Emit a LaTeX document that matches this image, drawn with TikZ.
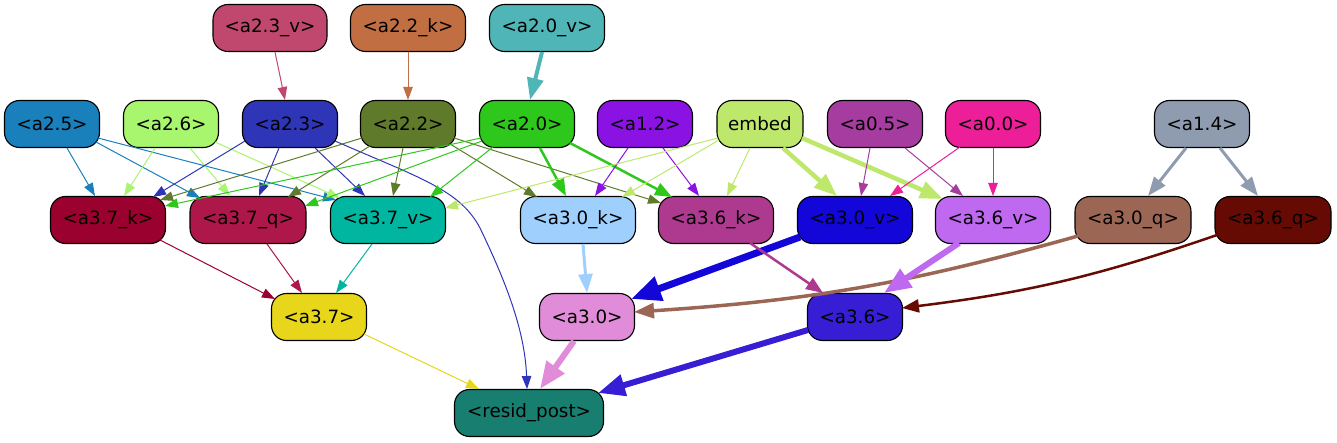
\documentclass[tikz,border=0pt]{standalone}
\usepackage{fontspec}
\setmainfont{DejaVu Sans}
\usetikzlibrary{arrows.meta,calc}
\definecolor{c23v}{HTML}{C0486E}
\definecolor{c22k}{HTML}{C16E43}
\definecolor{c20v}{HTML}{4FB5B7}
\definecolor{c25}{HTML}{1A80BB}
\definecolor{c26}{HTML}{A8F56E}
\definecolor{c23}{HTML}{2E36B7}
\definecolor{c22}{HTML}{5F7A2B}
\definecolor{c20}{HTML}{2EC81C}
\definecolor{c12}{HTML}{8A12E2}
\definecolor{cemb}{HTML}{BDE86C}
\definecolor{c05}{HTML}{A63CA0}
\definecolor{c00}{HTML}{EC1E98}
\definecolor{c14}{HTML}{8F9CB0}
\definecolor{c37k}{HTML}{9A012E}
\definecolor{c37q}{HTML}{AD174A}
\definecolor{c37v}{HTML}{01B6A1}
\definecolor{c30k}{HTML}{9FCFFD}
\definecolor{c36k}{HTML}{AD3A8F}
\definecolor{c30v}{HTML}{1206D8}
\definecolor{c36v}{HTML}{BE69EF}
\definecolor{c30q}{HTML}{9C6655}
\definecolor{c36q}{HTML}{650B04}
\definecolor{c37}{HTML}{E7D61A}
\definecolor{c30}{HTML}{E08CD8}
\definecolor{c36}{HTML}{371ED5}
\definecolor{crp}{HTML}{187E6F}
\newcommand\Ed[5]{\draw[#1] ([shift={#3}]#2.center) -- ([shift={#5}]#4.center);}
\begin{document}
\begin{tikzpicture}[x=1pt,y=-1pt,
  nd/.style 2 args={draw=black,line width=1.1pt,rounded corners=15pt,minimum height=47pt,
    minimum width=#2pt,inner sep=0pt,fill=#1,text=black,font=\fontsize{18.3}{22}\selectfont},
  ar/.style n args={4}{draw=#1,line width=#2pt,-{Triangle[length=#3pt,width=#4pt]}},
  tn/.style={ar={#1}{1}{13}{9.5}}]
\useasboundingbox (0,0) rectangle (1337,443);
% top row
\node[nd={c23v}{114}] (a23v) at (270,28) {<a2.3\_v>};
\node[nd={c22k}{115}] (a22k) at (408,28) {<a2.2\_k>};
\node[nd={c20v}{115}] (a20v) at (547,28) {<a2.0\_v>};
% second row
\node[nd={c25}{95}] (a25) at (52,124) {<a2.5>};
\node[nd={c26}{95}] (a26) at (171,124) {<a2.6>};
\node[nd={c23}{95}] (a23) at (290,124) {<a2.3>};
\node[nd={c22}{95}] (a22) at (408,124) {<a2.2>};
\node[nd={c20}{95}] (a20) at (527,124) {<a2.0>};
\node[nd={c12}{95}] (a12) at (645,124) {<a1.2>};
\node[nd={cemb}{86}] (emb) at (760,124) {embed};
\node[nd={c05}{95}] (a05) at (875,124) {<a0.5>};
\node[nd={c00}{95}] (a00) at (993,124) {<a0.0>};
\node[nd={c14}{95}] (a14) at (1202,124) {<a1.4>};
% third row
\node[nd={c37k}{115}] (a37k) at (108,220) {<a3.7\_k>};
\node[nd={c37q}{116}] (a37q) at (248,220) {<a3.7\_q>};
\node[nd={c37v}{115}] (a37v) at (388,220) {<a3.7\_v>};
\node[nd={c30k}{115}] (a30k) at (578,220) {<a3.0\_k>};
\node[nd={c36k}{115}] (a36k) at (716,220) {<a3.6\_k>};
\node[nd={c30v}{115}] (a30v) at (855,220) {<a3.0\_v>};
\node[nd={c36v}{115}] (a36v) at (993,220) {<a3.6\_v>};
\node[nd={c30q}{116}] (a30q) at (1133,220) {<a3.0\_q>};
\node[nd={c36q}{116}] (a36q) at (1273,220) {<a3.6\_q>};
% fourth row
\node[nd={c37}{95}] (a37) at (319,317) {<a3.7>};
\node[nd={c30}{95}] (a30) at (587,317) {<a3.0>};
\node[nd={c36}{95}] (a36) at (855,317) {<a3.6>};
\node[nd={crp}{149}] (rp) at (529,413) {<resid\_post>};
% edges from top row
\Ed{tn=c23v}{a23v}{(5,24)}{a23}{(-5,-24)}
\Ed{tn=c22k}{a22k}{(0,24)}{a22}{(0,-24)}
\Ed{ar={c20v}{4}{22}{16}}{a20v}{(-5,24)}{a20}{(3,-24)}
% a2.5
\Ed{tn=c25}{a25}{(15,24)}{a37k}{(-13,-24)}
\Ed{tn=c25}{a25}{(44,18)}{a37q}{(-48,-22)}
\Ed{tn=c25}{a25}{(46,14)}{a37v}{(-52,-20)}
% a2.6
\Ed{tn=c26}{a26}{(-16,24)}{a37k}{(16,-24)}
\Ed{tn=c26}{a26}{(19,24)}{a37q}{(-18,-24)}
\Ed{tn=c26}{a26}{(44,18)}{a37v}{(-48,-22)}
% a2.3
\Ed{tn=c23}{a23}{(-45,17)}{a37k}{(45,-23)}
\Ed{tn=c23}{a23}{(-11,24)}{a37q}{(11,-24)}
\Ed{tn=c23}{a23}{(25,24)}{a37v}{(-23,-24)}
\draw[tn=c23] ([shift={(45,17)}]a23.center) .. controls (420,178) and (460,190) .. (480,228)
  .. controls (505,280) and (525,330) .. ([shift={(-2,-24)}]rp.center);
% a2.2
\Ed{tn=c22}{a22}{(-46,14)}{a37k}{(52,-20)}
\Ed{tn=c22}{a22}{(-38,22)}{a37q}{(40,-23)}
\Ed{tn=c22}{a22}{(-5,24)}{a37v}{(5,-24)}
\Ed{tn=c22}{a22}{(42,20)}{a30k}{(-41,-23)}
\Ed{tn=c22}{a22}{(46,14)}{a36k}{(-55,-17)}
% a2.0
\Ed{tn=c20}{a20}{(-46,14)}{a37k}{(57,-14)}
\Ed{tn=c20}{a20}{(-45,17)}{a37q}{(57,-14)}
\Ed{tn=c20}{a20}{(-34,23)}{a37v}{(42,-23)}
\Ed{ar={c20}{2.5}{17}{13}}{a20}{(13,24)}{a30k}{(-12,-24)}
\Ed{ar={c20}{2.5}{17}{13}}{a20}{(43,19)}{a36k}{(-44,-23)}
% a1.2
\Ed{tn=c12}{a12}{(-17,24)}{a30k}{(17,-24)}
\Ed{tn=c12}{a12}{(18,24)}{a36k}{(-17,-24)}
% embed
\Ed{tn=cemb}{emb}{(-42,14)}{a37v}{(57,-12)}
\Ed{tn=cemb}{emb}{(-41,16)}{a30k}{(44,-23)}
\Ed{tn=cemb}{emb}{(-10,24)}{a36k}{(11,-24)}
\Ed{ar={cemb}{4.5}{23}{17}}{emb}{(23,24)}{a30v}{(-18,-24)}
\Ed{ar={cemb}{4.5}{23}{17}}{emb}{(42,14)}{a36v}{(-50,-21)}
% a0.5, a0.0
\Ed{tn=c05}{a05}{(-5,24)}{a30v}{(6,-24)}
\Ed{tn=c05}{a05}{(30,24)}{a36v}{(-30,-24)}
\Ed{tn=c00}{a00}{(-33,23)}{a30v}{(35,-24)}
\Ed{tn=c00}{a00}{(0,24)}{a36v}{(0,-24)}
% a1.4
\Ed{ar={c14}{3}{19}{14}}{a14}{(-16,24)}{a30q}{(15,-24)}
\Ed{ar={c14}{3}{19}{14}}{a14}{(18,24)}{a36q}{(-15,-24)}
% third row to fourth
\Ed{tn=c37k}{a37k}{(52,20)}{a37}{(-44,-18)}
\Ed{tn=c37q}{a37q}{(19,24)}{a37}{(-17,-24)}
\Ed{tn=c37v}{a37v}{(-16,24)}{a37}{(17,-24)}
\Ed{ar={c30k}{3}{19}{14}}{a30k}{(5,24)}{a30}{(0,-24)}
\Ed{ar={c30v}{7}{30}{24}}{a30v}{(-55,17)}{a30}{(44,-18)}
\draw[ar={c30q}{3.5}{20}{15}] ([shift={(-55,16)}]a30q.center) to[bend left=6] ([shift={(47,-5)}]a30.center);
\Ed{ar={c36k}{2.5}{17}{13}}{a36k}{(34,23)}{a36}{(-32,-24)}
\Ed{ar={c36v}{6}{27}{21}}{a36v}{(-34,23)}{a36}{(29,-24)}
\draw[ar={c36q}{2.5}{17}{13}] ([shift={(-56,15)}]a36q.center) to[bend left=6] ([shift={(47,-9)}]a36.center);
% to resid_post
\Ed{tn=c37}{a37}{(45,17)}{rp}{(-50,-24)}
\Ed{ar={c30}{6}{27}{21}}{a30}{(-13,24)}{rp}{(11,-24)}
\Ed{ar={c36}{6}{27}{21}}{a36}{(-47,13)}{rp}{(69,-20)}
\end{tikzpicture}
\end{document}
